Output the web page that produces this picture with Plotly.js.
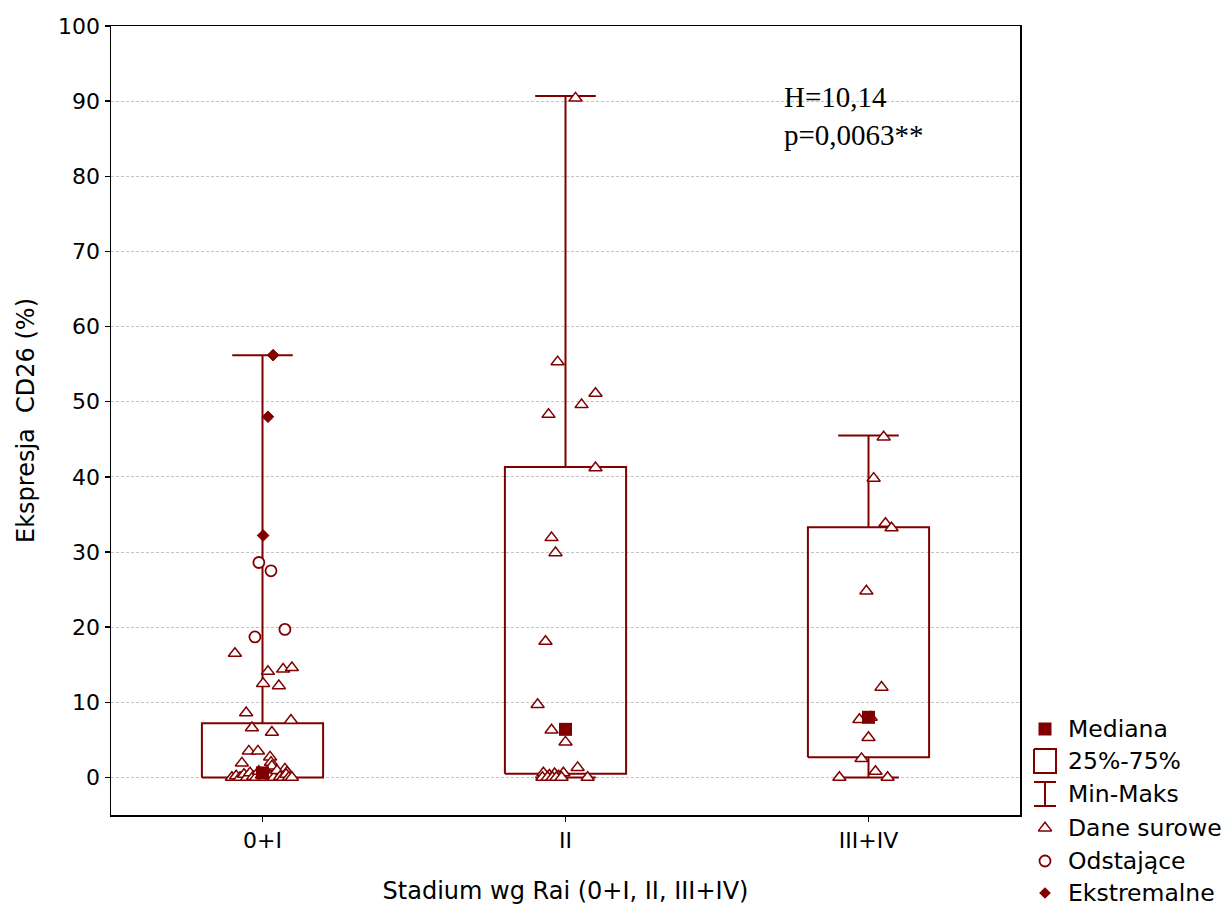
<!DOCTYPE html>
<html>
<head>
<meta charset="utf-8">
<script src="https://cdn.plot.ly/plotly-3.0.1.min.js"></script>
<style>html,body{margin:0;padding:0;background:#fff;}#chart{width:1226px;height:909px;}</style>
</head>
<body>
<div id="chart"></div>
<script>
// ---- data ----
const categories = ['0+I', 'II', 'III+IV'];
const q1Vals = [0, 0.5, 2.7];
const medianVals = [0.6, 6.4, 8.0];
const q3Vals = [7.2, 41.3, 33.3];
const minVals = [0, 0, 0];
const maxVals = [56.2, 90.7, 45.5];

// raw data (Dane surowe): values and horizontal jitter (category units)
const raw0Values = [16.5, 14.1, 14.4, 14.6, 12.5, 12.2, 7.6, 8.6, 6.6, 6.0,
  3.5, 3.5, 1.9, 2.7, 2.0, 1.5, 1.1, 0.7,
  0, 0.2, 0, 0.4, 0, 0.6, 0.1, 0, 0.8, 0.3, 0, 0.5, 0.2, 0, 0.9, 0.1, 0, 0.4, 0, 0];
const raw0Jitter = [-0.091, 0.018, 0.068, 0.097, 0.002, 0.054, 0.094, -0.054, -0.035, 0.031,
  -0.045, -0.015, -0.068, 0.025, 0.028, 0.031, 0.074, 0.081,
  -0.101, -0.087, -0.074, -0.061, -0.051, -0.041, -0.031, -0.021, -0.012, -0.002, 0.008, 0.018, 0.028, 0.038, 0.048, 0.058, 0.068, 0.078, 0.087, 0.097];
const raw1Values = [90.4, 55.3, 49.6, 51.1, 48.3, 41.2, 31.9, 29.9, 18.1, 9.7, 6.3, 4.7,
  0.6, 0.3, 0.5, 0.2, 0.6, 1.3, 0, 0, 0, 0, 0, 0];
const raw1Jitter = [0.033, -0.026, 0.053, 0.099, -0.056, 0.099, -0.046, -0.033, -0.066, -0.092, -0.046, 0,
  -0.073, -0.053, -0.036, -0.023, -0.007, 0.040, 0.073, -0.076, -0.059, -0.043, -0.030, -0.013];
const raw2Values = [45.3, 39.8, 33.8, 33.2, 24.8, 12.0, 7.7, 8.0, 5.3, 2.5, 0.8, 0, 0];
const raw2Jitter = [0.050, 0.017, 0.056, 0.076, -0.007, 0.043, -0.030, 0.007, 0, -0.023, 0.023, -0.096, 0.063];

// outliers (Odstające) and extremes (Ekstremalne), group 0+I
const outlierValues = [28.6, 27.5, 18.7, 19.7];
const outlierJitter = [-0.012, 0.028, -0.025, 0.074];
const extremeValues = [56.2, 48.0, 32.2];
const extremeJitter = [0.035, 0.018, 0.002];

const legendLabels = ['Mediana', '25%-75%', 'Min-Maks', 'Dane surowe', 'Odstające', 'Ekstremalne'];
const statLines = ['H=10,14', 'p=0,0063**'];

// ---- styles ----
const RED = '#800000';
const BOX_HALF = 0.2, CAP_HALF = 0.1;
const FONT = 'DejaVu Sans, Arial, sans-serif';

// box + whisker geometry from stats
const bx = [], by = [];
categories.forEach((c, i) => {
  bx.push(i - BOX_HALF, i + BOX_HALF, i + BOX_HALF, i - BOX_HALF, i - BOX_HALF, null);
  by.push(q1Vals[i], q1Vals[i], q3Vals[i], q3Vals[i], q1Vals[i], null);
  bx.push(i, i, null, i, i, null);
  by.push(q3Vals[i], maxVals[i], null, q1Vals[i], minVals[i], null);
  bx.push(i - CAP_HALF, i + CAP_HALF, null, i - CAP_HALF, i + CAP_HALF, null);
  by.push(maxVals[i], maxVals[i], null, minVals[i], minVals[i], null);
});

const rawX = [], rawY = [];
[[raw0Values, raw0Jitter], [raw1Values, raw1Jitter], [raw2Values, raw2Jitter]].forEach(([v, j], i) => {
  v.forEach((val, k) => { rawX.push(i + j[k]); rawY.push(val); });
});

const TRI = {symbol: 'triangle-up', size: 11.5, color: '#ffffff', line: {color: RED, width: 1.5}};

const traces = [
  {type: 'scatter', mode: 'lines', x: bx, y: by, line: {color: RED, width: 2}, hoverinfo: 'skip', showlegend: false},
  {type: 'scatter', mode: 'markers', x: rawX, y: rawY, showlegend: false, marker: TRI},
  {type: 'scatter', mode: 'markers', x: outlierJitter.map(j => 0 + j), y: outlierValues, showlegend: false,
   marker: {symbol: 'circle', size: 11, color: '#ffffff', line: {color: RED, width: 1.8}}},
  {type: 'scatter', mode: 'markers', x: extremeJitter.map(j => 0 + j), y: extremeValues, showlegend: false,
   marker: {symbol: 'diamond', size: 9, color: RED, line: {color: RED, width: 1}}},
  {type: 'scatter', mode: 'markers', x: categories.map((c, i) => i), y: medianVals, showlegend: false,
   marker: {symbol: 'square', size: 13, color: RED, line: {color: RED, width: 0}}},
];

// custom legend drawn on an overlay axis pair (pixel-like units)
const LX = 1045, TX = 1066;
const legY = [729, 761, 794, 828, 861, 893];
traces.push(
  {type: 'scatter', mode: 'markers', xaxis: 'x2', yaxis: 'y2', x: [LX], y: [legY[0]], showlegend: false, hoverinfo: 'skip',
   marker: {symbol: 'square', size: 13, color: RED}},
  {type: 'scatter', mode: 'lines', xaxis: 'x2', yaxis: 'y2', showlegend: false, hoverinfo: 'skip',
   x: [LX - 11, LX + 11, LX + 11, LX - 11, LX - 11], y: [legY[1] - 12, legY[1] - 12, legY[1] + 12, legY[1] + 12, legY[1] - 12],
   line: {color: RED, width: 2}},
  {type: 'scatter', mode: 'lines', xaxis: 'x2', yaxis: 'y2', showlegend: false, hoverinfo: 'skip',
   x: [LX - 11, LX + 11, null, LX, LX, null, LX - 11, LX + 11], y: [legY[2] - 12, legY[2] - 12, null, legY[2] - 12, legY[2] + 12, null, legY[2] + 12, legY[2] + 12],
   line: {color: RED, width: 2}},
  {type: 'scatter', mode: 'markers', xaxis: 'x2', yaxis: 'y2', x: [LX], y: [legY[3]], showlegend: false, hoverinfo: 'skip',
   marker: TRI},
  {type: 'scatter', mode: 'markers', xaxis: 'x2', yaxis: 'y2', x: [LX], y: [legY[4]], showlegend: false, hoverinfo: 'skip',
   marker: {symbol: 'circle', size: 11, color: '#ffffff', line: {color: RED, width: 1.8}}},
  {type: 'scatter', mode: 'markers', xaxis: 'x2', yaxis: 'y2', x: [LX], y: [legY[5]], showlegend: false, hoverinfo: 'skip',
   marker: {symbol: 'diamond', size: 9, color: RED}}
);

const annotations = legendLabels.map((t, i) => ({
  xref: 'x2', yref: 'y2', x: TX, y: legY[i], xanchor: 'left', yanchor: 'middle', showarrow: false,
  text: t, font: {family: FONT, size: 23.5, color: '#000'}
}));
annotations.push({
  xref: 'paper', yref: 'paper', x: (782 - 111) / 1115, y: (909 - 79) / 883, xanchor: 'left', yanchor: 'top',
  align: 'left', showarrow: false, text: statLines.join('<br>'),
  font: {family: 'Liberation Serif, Times New Roman, serif', size: 29, color: '#000'}
});

const layout = {
  width: 1226, height: 909,
  margin: {l: 111, r: 0, t: 26, b: 0},
  paper_bgcolor: '#ffffff', plot_bgcolor: '#ffffff',
  showlegend: false,
  font: {family: FONT, size: 22, color: '#000'},
  xaxis: {
    domain: [0, 909 / 1115], range: [-0.5, 2.5], autorange: false,
    tickmode: 'array', tickvals: categories.map((c, i) => i), ticktext: categories,
    ticks: 'outside', ticklen: 5, tickcolor: '#000', tickwidth: 1.5,
    showgrid: false, zeroline: false, showline: true, mirror: true, linecolor: '#000', linewidth: 1.5,
    tickfont: {family: FONT, size: 22, color: '#000'},
    title: {text: 'Stadium wg Rai (0+I, II, III+IV)', font: {family: FONT, size: 24, color: '#000'}, standoff: 30}
  },
  yaxis: {
    domain: [(909 - 815) / 883, 1], range: [-5, 100], autorange: false,
    tick0: 0, dtick: 10, ticks: 'outside', ticklen: 5, tickcolor: '#000', tickwidth: 1.5,
    showgrid: true, gridcolor: '#c4c4c4', griddash: '3px,2px', gridwidth: 1,
    zeroline: false, showline: true, mirror: true, linecolor: '#000', linewidth: 1.5,
    tickfont: {family: FONT, size: 22, color: '#000'},
    title: {text: 'Ekspresja  CD26 (%)', font: {family: FONT, size: 24, color: '#000'}, standoff: 16}
  },
  xaxis2: {domain: [(1026 - 111) / 1115, 1], range: [1026, 1226], autorange: false, visible: false, anchor: 'y2', fixedrange: true},
  yaxis2: {domain: [0, (909 - 700) / 883], range: [909, 700], autorange: false, visible: false, anchor: 'x2', fixedrange: true},
  annotations: annotations
};

Plotly.newPlot('chart', traces, layout, {displayModeBar: false, staticPlot: true});
</script>
</body>
</html>
